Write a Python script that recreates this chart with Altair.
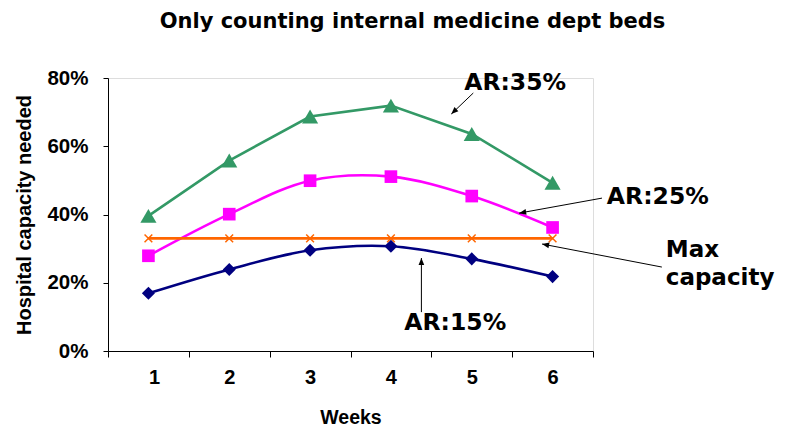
import math
import altair as alt
import pandas as pd

# ---------------- data ----------------
weeks = [1, 2, 3, 4, 5, 6]
ar15 = [0.169, 0.239, 0.295, 0.307, 0.270, 0.218]
ar25 = [0.279, 0.401, 0.499, 0.511, 0.454, 0.362]
ar35 = [0.396, 0.558, 0.687, 0.719, 0.636, 0.493]
max_capacity = [0.33, 0.33, 0.33, 0.33, 0.33, 0.33]

series_names = ["AR:15%", "AR:25%", "AR:35%", "Max capacity"]
series_colors = ["#000080", "#FF00FF", "#339966", "#FF6600"]

y_ticks = [0.0, 0.2, 0.4, 0.6, 0.8]
x_boundaries = [0.5, 1.5, 2.5, 3.5, 4.5, 5.5, 6.5]

# annotation labels (data coordinates)
label_text = ["AR:35%", "AR:25%", "Max", "capacity", "AR:15%"]
label_x = [5.537, 7.302, 7.40, 7.40, 4.796]
label_y = [0.785, 0.451, 0.296, 0.214, 0.082]
label_align = ["center", "center", "left", "left", "center"]

# annotation arrows: start -> tip (data coordinates)
arrow_x1 = [5.019, 6.611, 7.352, 4.377]
arrow_y1 = [0.756, 0.448, 0.246, 0.114]
arrow_x2 = [4.747, 5.586, 5.870, 4.377]
arrow_y2 = [0.6945, 0.404, 0.3135, 0.2725]

# ---------------- layout ----------------
W, H = 485, 273
X_DOMAIN = [0.5, 6.5]
Y_DOMAIN = [0.0, 0.8]
px_x = W / (X_DOMAIN[1] - X_DOMAIN[0])
px_y = H / (Y_DOMAIN[1] - Y_DOMAIN[0])
AX_FONT = "Liberation Sans, Arial, Helvetica, sans-serif"

df = pd.DataFrame({
    "week": weeks * 4,
    "value": ar15 + ar25 + ar35 + max_capacity,
    "series": [s for s in series_names for _ in weeks],
})

x_scale = alt.Scale(domain=X_DOMAIN, nice=False, zero=False)
y_scale = alt.Scale(domain=Y_DOMAIN, nice=False)

x_axis = alt.Axis(
    title="Weeks",
    values=x_boundaries,
    labelExpr="datum.value > 6 ? '' : format(datum.value + 0.5, 'd')",
    labelOffset=W / 12,
    grid=False,
    domainColor="black",
    tickColor="black",
    tickSize=6,
    labelFont=AX_FONT,
    labelFontWeight="bold",
    labelFontSize=20,
    labelColor="black",
    labelPadding=10,
    titleFont=AX_FONT,
    titleFontWeight="bold",
    titleFontSize=19.5,
    titleColor="black",
    titlePadding=21,
)
y_axis = alt.Axis(
    title="Hospital capacity needed",
    values=y_ticks,
    format=".0%",
    grid=False,
    domainColor="black",
    tickColor="black",
    tickSize=5,
    labelFont=AX_FONT,
    labelFontWeight="bold",
    labelFontSize=20.5,
    labelColor="black",
    labelPadding=15,
    titleFont=AX_FONT,
    titleFontWeight="bold",
    titleFontSize=20,
    titleColor="black",
    titlePadding=12,
)


def series_layer(name, color, interp, shape, size, filled=True):
    base = alt.Chart(df).transform_filter(alt.datum.series == name)
    line = base.mark_line(color=color, strokeWidth=2.6, interpolate=interp).encode(
        x=alt.X("week:Q", scale=x_scale, axis=x_axis),
        y=alt.Y("value:Q", scale=y_scale, axis=y_axis),
    )
    if filled:
        pts = base.mark_point(shape=shape, size=size, filled=True, color=color, opacity=1)
    else:
        pts = base.mark_point(shape=shape, size=size, filled=False, color=color,
                              strokeWidth=1.5, opacity=1)
    pts = pts.encode(x="week:Q", y="value:Q")
    return line + pts


l15 = series_layer("AR:15%", series_colors[0], "catmull-rom", "diamond", 170)
l25 = series_layer("AR:25%", series_colors[1], "catmull-rom", "square", 160)
l35 = series_layer("AR:35%", series_colors[2], "linear", "triangle-up", 260)
lmax = series_layer("Max capacity", series_colors[3], "linear",
                    "M-1,-1L1,1M-1,1L1,-1", 60, filled=False)

# annotations
lab_df = pd.DataFrame({"t": label_text, "x": label_x, "y": label_y, "a": label_align})
labels_c = alt.Chart(lab_df).transform_filter(alt.datum.a == "center").mark_text(
    font="DejaVu Sans", fontWeight="bold", fontSize=23.5, color="black",
    align="center", baseline="middle",
).encode(x="x:Q", y="y:Q", text="t:N")
labels_l = alt.Chart(lab_df).transform_filter(alt.datum.a == "left").mark_text(
    font="DejaVu Sans", fontWeight="bold", fontSize=23, color="black",
    align="left", baseline="middle",
).encode(x="x:Q", y="y:Q", text="t:N")

angles = []
for x1, y1, x2, y2 in zip(arrow_x1, arrow_y1, arrow_x2, arrow_y2):
    dx = (x2 - x1) * px_x
    dy = -(y2 - y1) * px_y
    angles.append(math.degrees(math.atan2(dx, -dy)) % 360)

arr_df = pd.DataFrame({"x1": arrow_x1, "y1": arrow_y1, "x2": arrow_x2,
                       "y2": arrow_y2, "angle": angles})
shafts = alt.Chart(arr_df).mark_rule(color="black", strokeWidth=1).encode(
    x="x1:Q", y="y1:Q", x2="x2:Q", y2="y2:Q")
heads = alt.Chart(arr_df).mark_point(
    shape="M0,0L0.4,1L-0.4,1Z", size=200, filled=True, color="black", opacity=1
).encode(x="x2:Q", y="y2:Q", angle=alt.Angle("angle:Q", scale=None))

chart = alt.layer(l15, l25, l35, lmax, shafts, heads, labels_c, labels_l).properties(
    width=W,
    height=H,
    title=alt.TitleParams(
        "Only counting internal medicine dept beds",
        font="DejaVu Sans", fontSize=21, fontWeight="bold", color="black",
        anchor="middle", dx=62, offset=36,
    ),
    autosize=alt.AutoSizeParams(type="none"),
    padding={"left": 100, "top": 70, "right": 185, "bottom": 76},
).configure_view(stroke=None).configure(background="white")

chart.save("out.html", embed_options={"renderer": "svg", "actions": False})
